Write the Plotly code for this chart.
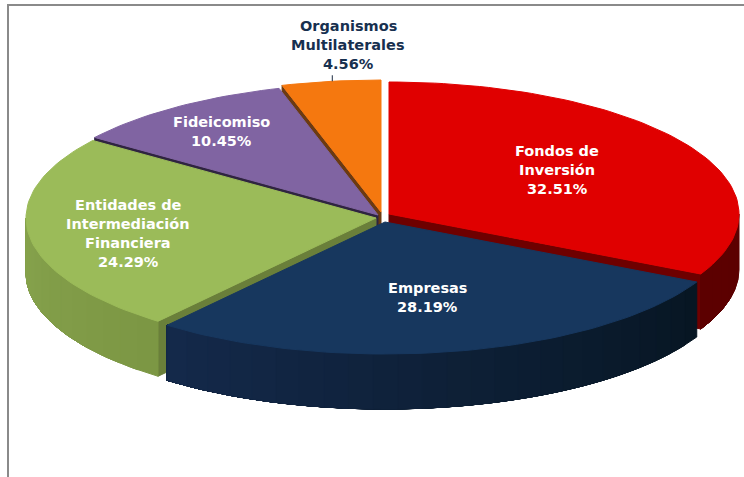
import math
import plotly.graph_objects as go

# ---- data ----
categories = ["Fondos de<br>Inversión", "Empresas", "Entidades de<br>Intermediación<br>Financiera",
              "Fideicomiso", "Organismos<br>Multilaterales"]
shares = [32.51, 28.19, 24.29, 10.45, 4.56]

# ---- styling / geometry ----
top_colors = ["#e00000", "#17375e", "#9bbb59", "#8064a2", "#f5780f"]
wall_left = ["#5c0000", "#14294a", "#86a24c", "#4a3a60", "#8a4a10"]
wall_right = ["#5c0000", "#071623", "#7c9744", "#4a3a60", "#8a4a10"]
cut_colors = ["#6e0000", "#14294a", "#6a7f3a", "#2f2440", "#6b3a12"]
apex = [(389, 214), (385, 222), (376, 218), (378, 215), (381, 212)]
RX, RY, DEPTH = 350, 132, 55
draw_order = [4, 3, 2, 0, 1]
label_pos = [(557, 170), (427, 297), (128, 233), (221, 131), (348, 45)]
label_colors = ["#ffffff", "#ffffff", "#ffffff", "#ffffff", "#17304f"]
LINE_PITCH = 19
LABEL_FONT = "DejaVu Sans"
LABEL_SIZE = 14.5


def rim(i, deg, drop=0):
    t = math.radians(deg)
    return apex[i][0] + RX * math.sin(t), apex[i][1] - RY * math.cos(t) + drop


def poly(points, fill):
    xs = [p[0] for p in points] + [points[0][0]]
    ys = [p[1] for p in points] + [points[0][1]]
    return go.Scatter(x=xs, y=ys, mode="lines", fill="toself", fillcolor=fill,
                      line=dict(color=fill, width=1), hoverinfo="skip", showlegend=False)


def mix(a, b, f):
    ca = [int(a[k:k + 2], 16) for k in (1, 3, 5)]
    cb = [int(b[k:k + 2], 16) for k in (1, 3, 5)]
    return "#" + "".join(f"{round(x + (y - x) * f):02x}" for x, y in zip(ca, cb))


fig = go.Figure()

# start angles accumulate clockwise from 12 o'clock
starts = []
acc = 0.0
for v in shares:
    starts.append(acc)
    acc += v * 3.6

for i in draw_order:
    a0, a1 = starts[i], starts[i] + shares[i] * 3.6
    ax, ay = apex[i]
    # exposed cut face: the radial edge that looks towards the viewer
    cut_angle = a1 if a1 < 180 else (a0 if a0 >= 180 else None)
    if cut_angle is not None:
        p = rim(i, cut_angle)
        fig.add_trace(poly([(ax, ay), p, (p[0], p[1] + DEPTH), (ax, ay + DEPTH)], cut_colors[i]))
    # outer wall facing the viewer: each strip runs to the far end and the next paints over it
    lo, hi = max(a0, 90), min(a1, 270)
    if hi > lo:
        n = max(2, int((hi - lo) / 4))
        for k in range(n):
            d0 = lo + (hi - lo) * k / n
            arc = [d0 + (hi - d0) * m / 60 for m in range(61)]
            col = mix(wall_right[i], wall_left[i], k / max(1, n - 1))
            fig.add_trace(poly([rim(i, d) for d in arc] + [rim(i, d, DEPTH) for d in reversed(arc)], col))
    # top face
    steps = max(8, int((a1 - a0) / 1.5))
    pts = [(ax, ay)] + [rim(i, a0 + (a1 - a0) * k / steps) for k in range(steps + 1)]
    fig.add_trace(poly(pts, top_colors[i]))

# leader line of the outside label
lead = rim(4, 352)
fig.add_trace(go.Scatter(x=[lead[0], lead[0]], y=[lead[1] - 6, lead[1]], mode="lines",
                         line=dict(color="#1a2a40", width=1), hoverinfo="skip", showlegend=False))

# frame of the original picture
fig.add_trace(go.Scatter(x=[8, 8, 744], y=[477, 5, 5], mode="lines",
                         line=dict(color="#8a8a8a", width=2), hoverinfo="skip", showlegend=False))

for name, v, pos, col in zip(categories, shares, label_pos, label_colors):
    lines = name.split("<br>") + [f"{v:.2f}%"]
    for j, line in enumerate(lines):
        fig.add_annotation(x=pos[0], y=pos[1] + (j - (len(lines) - 1) / 2) * LINE_PITCH, text=line,
                           showarrow=False, align="center", xanchor="center", yanchor="middle",
                           font=dict(family=LABEL_FONT, size=LABEL_SIZE, color=col, weight="bold"))

fig.update_layout(width=744, height=477, autosize=False, margin=dict(l=0, r=0, t=0, b=0),
                  paper_bgcolor="white", plot_bgcolor="white", showlegend=False,
                  xaxis=dict(range=[0, 744], visible=False, fixedrange=True),
                  yaxis=dict(range=[477, 0], visible=False, fixedrange=True))
fig.write_html("out.html", config={"displayModeBar": False},
               post_script="document.body.style.margin='0';document.body.style.overflow='hidden';")
